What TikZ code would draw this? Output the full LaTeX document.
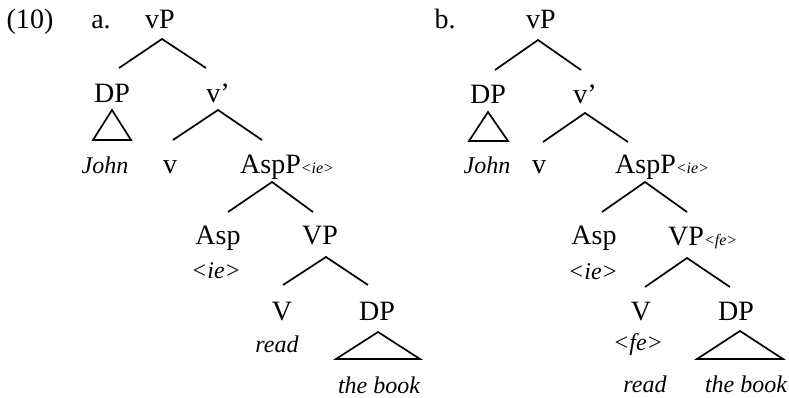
\documentclass[tikz,border=0pt]{standalone}
\usepackage{fontspec}
\setmainfont{Liberation Serif}
\usepackage{tikz}
\usetikzlibrary{positioning}

\newcommand{\featsub}[1]{{\fontsize{16}{18}\selectfont\itshape\textless #1\textgreater}}
\newcommand{\featword}[1]{\textless #1\textgreater}

\tikzset{
    cat/.style={font=\fontsize{28}{32}\selectfont, inner sep=0pt, anchor=base},
    catw/.style={cat, anchor=base west},
    word/.style={cat, font=\fontsize{24}{28}\selectfont\itshape},
    branch/.style={line width=1.7pt}
}

\begin{document}
\begin{tikzpicture}[x=1pt, y=-1pt]
\useasboundingbox (0,0) rectangle (789,397);

% Example number and labels
\node[cat] (ten) at (30,28) {(10)};
\node[cat] (labA) at (101,28) {a.};
\node[cat] (labB) at (445,28) {b.};

% Tree a
\node[cat] (vPa) at (160,28) {vP};
\node[cat] (DPa) at (112,102) {DP};
\node[cat] (vbara) at (218,102) {v’};
\node[word] (Johna) at (105,173) {John};
\node[cat] (va) at (170,173) {v};
\node[catw] (AspPa) at (240,173) {AspP\featsub{ie}};
\node[cat] (Aspa) at (218,244) {Asp};
\node[word] (ieA) at (216,278) {\featword{ie}};
\node[cat] (VPa) at (320,244) {VP};
\node[cat] (Va) at (282,320) {V};
\node[word] (reada) at (277,352) {read};
\node[cat] (DPlowa) at (377,320) {DP};
\node[word] (booka) at (379,393) {the book};

\draw[branch] ([shift={(7,-34)}]DPa.base) -- ([shift={(2,11)}]vPa.base) -- ([shift={(-12,-34)}]vbara.base);
\draw[branch] ([shift={(0,8)}]DPa.base) -- ([shift={(-12,-33)}]Johna.base) -- ([shift={(26,-33)}]Johna.base) -- cycle;
\draw[branch] ([shift={(3,-33)}]va.base) -- ([shift={(0,8)}]vbara.base) -- ([shift={(22,-33)}]AspPa.base west);
\draw[branch] ([shift={(10,-32)}]Aspa.base) -- ([shift={(32,9)}]AspPa.base west) -- ([shift={(-7,-32)}]VPa.base);
\draw[branch] ([shift={(1,-35)}]Va.base) -- ([shift={(6,13)}]VPa.base) -- ([shift={(-9,-35)}]DPlowa.base);
\draw[branch] ([shift={(1,12)}]DPlowa.base) -- ([shift={(-43,-34)}]booka.base) -- ([shift={(41,-34)}]booka.base) -- cycle;

% Tree b
\node[cat] (vPb) at (541,28) {vP};
\node[cat] (DPb) at (488,103) {DP};
\node[cat] (vbarb) at (585,103) {v’};
\node[word] (Johnb) at (487,173) {John};
\node[cat] (vb) at (539,173) {v};
\node[catw] (AspPb) at (615,173) {AspP\featsub{ie}};
\node[cat] (Aspb) at (594,244) {Asp};
\node[word] (ieB) at (593,279) {\featword{ie}};
\node[catw] (VPb) at (668,245) {VP\featsub{fe}};
\node[cat] (Vb) at (641,320) {V};
\node[word] (feB) at (638,350) {\featword{fe}};
\node[word] (readb) at (645,392) {read};
\node[cat] (DPlowb) at (736,320) {DP};
\node[word] (bookb) at (746,392) {the book};

\draw[branch] ([shift={(7,-33)}]DPb.base) -- ([shift={(-3,12)}]vPb.base) -- ([shift={(-4,-33)}]vbarb.base);
\draw[branch] ([shift={(0,9)}]DPb.base) -- ([shift={(-18,-32)}]Johnb.base) -- ([shift={(21,-32)}]Johnb.base) -- cycle;
\draw[branch] ([shift={(4,-31)}]vb.base) -- ([shift={(0,10)}]vbarb.base) -- ([shift={(13,-31)}]AspPb.base west);
\draw[branch] ([shift={(8,-32)}]Aspb.base) -- ([shift={(30,9)}]AspPb.base west) -- ([shift={(19,-33)}]VPb.base west);
\draw[branch] ([shift={(4,-33)}]Vb.base) -- ([shift={(19,13)}]VPb.base west) -- ([shift={(-6,-33)}]DPlowb.base);
\draw[branch] ([shift={(4,11)}]DPlowb.base) -- ([shift={(-49,-33)}]bookb.base) -- ([shift={(37,-33)}]bookb.base) -- cycle;

\end{tikzpicture}
\end{document}
